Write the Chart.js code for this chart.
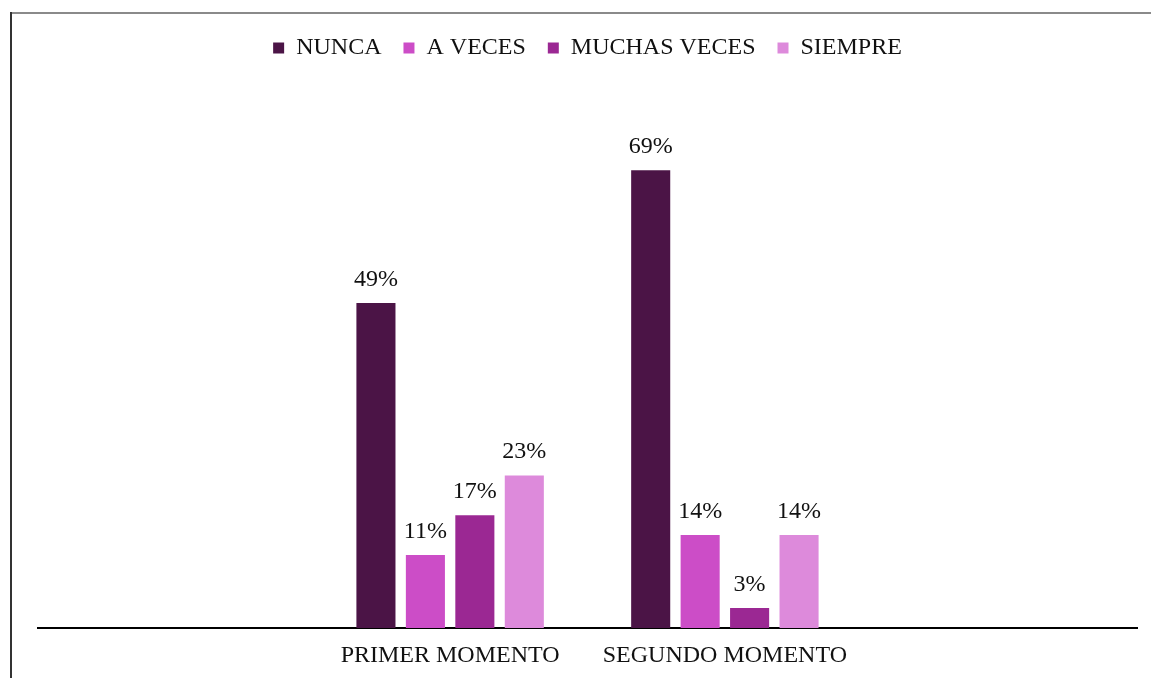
<!DOCTYPE html>
<html>
<head>
<meta charset="utf-8">
<script src="https://cdn.jsdelivr.net/npm/chart.js@4/dist/chart.umd.min.js"></script>
<style>
  html, body { margin: 0; padding: 0; background: #fff; }
  #wrap { position: relative; width: 1151px; height: 678px; }
</style>
</head>
<body>
<div id="wrap"><canvas id="c" width="1151" height="678"></canvas></div>
<script>
const categories = ['', 'PRIMER MOMENTO', 'SEGUNDO MOMENTO', ''];
const seriesNames = ['NUNCA', 'A VECES', 'MUCHAS VECES', 'SIEMPRE'];
const nunca = [null, 49, 69, null];
const aVeces = [null, 11, 14, null];
const muchasVeces = [null, 17, 3, null];
const siempre = [null, 23, 14, null];
const colors = ['#4b1446', '#cc4dc7', '#9b2893', '#dd8adb'];

const FONT = "'Liberation Serif', 'Times New Roman', serif";

const frame = {
  id: 'frame',
  afterDraw(chart) {
    const ctx = chart.ctx;
    ctx.save();
    ctx.lineWidth = 2;
    ctx.strokeStyle = '#8a8a8a';
    ctx.beginPath(); ctx.moveTo(10, 13); ctx.lineTo(1151, 13); ctx.stroke();
    ctx.strokeStyle = '#333';
    ctx.beginPath(); ctx.moveTo(11, 12); ctx.lineTo(11, 678); ctx.stroke();
    ctx.restore();
  }
};

const valueLabels = {
  id: 'valueLabels',
  afterDatasetsDraw(chart) {
    const ctx = chart.ctx;
    ctx.save();
    ctx.font = '24px ' + FONT;
    ctx.fillStyle = '#111';
    ctx.textAlign = 'center';
    ctx.textBaseline = 'alphabetic';
    chart.data.datasets.forEach((ds, i) => {
      const meta = chart.getDatasetMeta(i);
      meta.data.forEach((bar, j) => {
        const v = ds.data[j];
        if (v === null || v === undefined) return;
        ctx.fillText(v + '%', bar.x, bar.y - 17);
      });
    });
    ctx.restore();
  }
};

new Chart(document.getElementById('c'), {
  type: 'bar',
  data: {
    labels: categories,
    datasets: [
      { label: seriesNames[0], data: nunca, backgroundColor: colors[0] },
      { label: seriesNames[1], data: aVeces, backgroundColor: colors[1] },
      { label: seriesNames[2], data: muchasVeces, backgroundColor: colors[2] },
      { label: seriesNames[3], data: siempre, backgroundColor: colors[3] }
    ]
  },
  options: {
    responsive: false,
    animation: false,
    devicePixelRatio: 1,
    layout: { padding: { left: 38, right: 14, top: 14, bottom: 0 } },
    datasets: { bar: { barPercentage: 0.79, categoryPercentage: 0.72 } },
    plugins: {
      legend: {
        position: 'top',
        labels: {
          boxWidth: 11, boxHeight: 11, padding: 22,
          color: '#111',
          font: { family: FONT, size: 24 }
        }
      },
      tooltip: { enabled: false }
    },
    scales: {
      x: {
        grid: { display: false },
        border: { display: true, color: '#000', width: 2 },
        ticks: { color: '#111', font: { family: FONT, size: 24 }, padding: 5, maxRotation: 0, autoSkip: false },
        afterFit(scale) { scale.height = 50; }
      },
      y: {
        display: false,
        min: 0,
        max: 84.1
      }
    }
  },
  plugins: [frame, valueLabels]
});
</script>
</body>
</html>
